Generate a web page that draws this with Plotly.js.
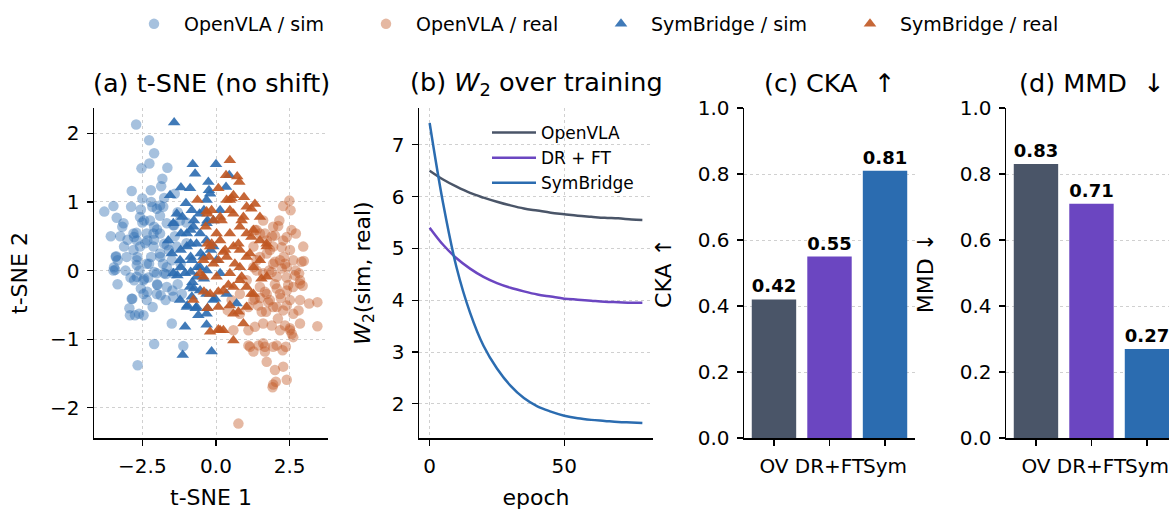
<!DOCTYPE html>
<html><head><meta charset="utf-8">
<script src="https://cdn.plot.ly/plotly-3.0.1.min.js"></script>
<style>html,body{margin:0;padding:0;background:#fff}#c{width:1169px;height:511px}</style>
</head><body><div id="c"></div>
<script>
// ---- data ----
const ovSimX = [-2.71,-2.27,-2.10,-2.53,-2.26,-1.65,-1.82,-1.86,-2.21,-3.79,-3.48,-3.37,-2.88,-3.14,-3.18,-3.25,-3.12,-3.39,-3.34,-3.42,-3.48,-3.07,-3.34,-2.86,-2.94,-2.92,-2.46,-2.75,-2.15,-1.50,-2.10,-2.66,-1.11,-2.58,-2.24,-2.01,-1.79,-1.67,-1.45,-1.22,-2.58,-2.69,-2.35,-2.12,-1.90,-1.67,-1.45,-2.01,-2.46,-2.69,-2.80,-2.35,-2.12,-1.90,-2.46,-2.01,-1.67,-1.45,-2.35,-1.16,-2.69,-3.03,-1.33,-1.67,-2.0,-2.2,-1.8,-2.4,-2.6,-2.0,-1.6,-1.4,-1.9,-2.5,-2.8,-2.9,-1.2,-1.0,-1.3,-2.1,-2.3,-1.7,-1.5,-2.7,-3.0,-2.2,-2.5,-1.9,-1.3,-1.0,
  -2.86,-2.55,-2.16,-1.76,-1.40,-3.57,-3.40,-2.67,-1.76,-1.42,-2.10,-2.44,-2.78,-2.33,-1.89,-2.27,-2.69,-3.46,-2.78,-2.44,-2.10,-1.76,-1.48,-2.84,-2.61,-1.88,-1.71,-2.33,-2.55,-1.99];
const ovSimY = [2.13,1.90,1.71,1.49,1.56,1.50,1.34,1.23,1.17,0.86,0.94,0.77,0.93,0.69,0.64,0.50,0.35,0.21,0.15,0.01,0.0,0.0,-0.20,-0.41,-0.55,-0.65,-0.65,-0.65,-0.53,-0.77,-1.07,-1.38,-1.10,0.78,0.73,0.90,0.93,0.69,0.66,0.73,0.35,0.15,0.10,0.35,0.25,0.05,-0.04,-0.04,-0.14,-0.09,0.54,0.54,0.54,0.54,-0.34,-0.34,-0.24,-0.38,-0.43,-0.34,0.44,0.20,0.35,0.37,0.6,0.2,0.1,0.4,0.0,-0.2,0.3,0.5,0.8,0.7,0.3,-0.1,0.1,0.4,-0.2,0.45,-0.1,-0.05,0.15,0.55,0.45,1.0,1.05,0.95,0.85,0.7,
  1.16,0.89,0.93,1.06,1.12,0.50,0.20,0.20,0.39,0.66,0.64,0.73,0.49,0.44,0.20,0.10,0.08,0.05,-0.14,-0.12,-0.02,-0.04,-0.29,-0.41,-0.63,-0.36,-0.43,-0.31,-0.26,-0.21];
const ovRealX = [2.49,2.28,2.53,2.15,2.11,2.96,2.71,2.98,2.82,2.94,3.16,3.44,3.44,2.85,2.62,2.51,2.37,2.26,2.06,1.94,1.66,1.44,1.15,1.72,2.00,2.28,1.94,2.03,2.40,1.92,0.76,0.59,0.40,0.81,1.32,1.60,1.27,1.72,1.94,2.28,2.51,2.62,2.40,2.17,1.94,1.72,1.49,1.38,1.60,2.06,2.40,1.49,1.04,1.27,1.94,2.51,2.62,2.17,1.83,2.62,2.85,1.55,1.10,1.72,1.27,2.28,2.56,1.94,1.60,1.38,2.85,0.81,0.53,2.0,2.2,1.8,2.3,1.5,2.1,1.9,2.4,1.7,2.7,
  1.32,1.66,2.00,2.40,2.23,1.83,1.49,2.90,2.00,2.34,1.38,1.89,2.23,2.68,2.45,2.85,2.06,1.66,1.32,1.77,2.06,2.40,2.80,2.51,2.34,1.89,1.10,1.10,1.27,1.60,1.66,2.57,2.17,1.43];
const ovRealY = [1.02,0.94,0.88,0.73,0.65,0.35,0.54,0.14,-0.04,-0.22,-0.48,-0.46,-0.81,-0.77,-0.97,-0.87,-1.11,-1.16,-1.09,-1.11,-1.11,-1.09,-1.11,-1.33,-1.45,-1.40,-1.66,-1.62,-1.59,-1.70,-2.23,-0.87,-0.58,-0.63,-0.82,-0.77,-0.43,-0.34,-0.53,-0.58,-0.43,-0.24,0.05,0.15,0.35,0.44,0.54,0.15,-0.04,-0.09,-0.29,-0.24,-0.14,0.05,0.10,0.30,0.15,-0.34,-0.43,-0.63,-0.43,-0.60,-0.53,0.25,0.35,0.44,0.59,0.64,0.73,0.59,-0.14,-0.34,-0.43,-0.2,-0.4,0.0,0.2,-0.4,-0.7,0.5,-0.1,-0.6,0.0,
  0.59,0.54,0.51,0.49,0.34,0.30,0.20,0.13,0.13,0.10,0.0,-0.02,0.03,-0.07,-0.21,-0.19,-0.26,-0.31,-0.41,-0.46,-0.53,-0.51,-0.58,-0.84,-0.80,-0.80,-0.87,-1.09,-1.18,-1.06,-1.18,-0.92,-0.87,-0.51];
const sbSimX = [-1.42,-0.79,-0.71,0.0,0.45,-1.56,-1.19,-0.88,-0.26,-0.20,0.34,-1.02,-0.82,-0.56,-0.32,-1.45,-1.19,-1.62,-0.99,-0.66,-1.50,-1.22,-0.82,-0.43,-1.05,-0.66,-0.32,-0.88,-0.54,-1.22,-0.99,-0.66,-0.32,-0.60,-1.05,-1.13,-0.15,0.70,-0.09,-1.33,-0.54,-0.32,-0.77,-0.09,0.02,0.14,-0.54,-0.99,-1.45,-0.82,-0.32,0.36,-0.09,-0.32,0.14,
  -0.24,-0.41,-1.14,-0.75,-0.29,-0.86,-1.20,-0.86,-0.86,-0.52,-0.18,-1.20,-0.63,-1.31,-0.80,-0.75,-0.97,-0.69,-0.29,-0.32,-0.86,-0.41,-0.03];
const sbSimY = [2.16,1.55,1.41,1.55,1.39,1.10,1.21,1.20,1.29,1.12,1.22,0.98,0.88,0.83,0.69,0.69,0.54,0.44,0.35,0.39,0.25,0.15,0.15,0.20,-0.04,-0.09,0.0,-0.24,-0.29,-0.43,-0.53,-0.53,-0.63,-0.65,-0.82,-1.23,-1.18,-0.48,-0.43,0.83,0.54,0.44,0.64,0.35,0.15,-0.04,0.05,0.54,-0.04,-0.38,-0.34,-0.34,0.73,1.03,0.88,
  1.17,0.88,0.78,0.73,0.73,0.59,0.30,0.39,0.20,0.25,0.30,0.05,0.05,-0.07,-0.17,-0.26,-0.51,-0.55,-0.55,-0.79,-0.02,-0.12,-0.41];
const sbRealX = [0.47,0.34,0.72,0.79,0.08,-0.63,0.95,1.32,1.04,0.59,0.36,-0.32,-0.09,0.14,0.59,0.93,1.27,1.72,1.49,0.81,0.47,0.14,-0.20,-0.43,-0.09,0.36,0.81,1.15,1.27,0.81,0.47,0.02,-0.43,0.59,1.04,1.27,0.25,-0.20,-0.77,0.08,0.47,0.93,-0.20,0.08,0.25,0.59,0.59,1.04,-0.54,0.02,0.59,1.04,1.49,1.72,1.49,0.47,0.25,0.81,
  0.14,0.76,1.20,1.54,0.87,0.42,0.08,1.20,0.53,0.47,0.87,-0.15,0.19,1.72,1.20,0.76,0.31,-0.15,1.04,0.64,0.08,-0.29,-0.35,-0.29,-0.24,-0.41,-0.29];
const sbRealY = [1.61,1.39,1.37,1.29,1.20,1.03,1.07,0.97,0.93,1.10,1.03,0.86,0.73,0.78,0.83,0.78,0.59,0.35,0.44,0.64,0.54,0.44,0.35,0.15,0.10,0.20,0.30,0.25,0.05,0.05,-0.04,-0.09,-0.09,-0.24,-0.24,-0.34,-0.29,-0.34,-0.43,-0.53,-0.51,-0.77,-0.89,-0.86,-0.87,-1.02,-0.63,-0.53,-0.04,0.54,0.35,0.54,0.15,-0.09,0.78,1.03,0.27,-0.14,
  -0.87,-0.60,-0.34,-0.12,-0.09,-0.21,-0.31,0.90,1.05,0.88,0.73,0.88,0.73,0.39,0.49,0.39,0.30,0.39,0.20,0.10,0.15,0.83,0.64,0.39,0.20,-0.31,-0.55];

const epochs = [0,5,10,15,20,25,30,35,40,45,50,55,60,65,70,75,79];
const w2OpenVLA = [6.50,6.33,6.19,6.07,5.98,5.90,5.83,5.77,5.73,5.69,5.66,5.63,5.61,5.59,5.58,5.56,5.55];
const w2DRFT = [5.40,5.07,4.81,4.61,4.45,4.33,4.24,4.17,4.11,4.07,4.03,4.01,3.99,3.97,3.96,3.95,3.95];
const w2SymBridge = [7.42,5.87,4.63,3.76,3.12,2.68,2.35,2.11,1.95,1.85,1.77,1.72,1.69,1.67,1.65,1.64,1.63];

const barCats = ['OV','DR+FT','Sym'];
const ckaVals = [0.42,0.55,0.81];
const mmdVals = [0.83,0.71,0.27];

// ---- style ----
const C_GRAY = '#4a5568', C_PURPLE = '#6b46c1', C_BLUE = '#2b6cb0', C_ORANGE = '#c05621';
const FONT = 'DejaVu Sans';
const W = 1169, H = 511;
const px = v => v / W, py = v => 1 - v / H;

function ax(extra) {
  return Object.assign({
    showline: true, linecolor: '#000', linewidth: 1.5, mirror: false,
    ticks: 'outside', ticklen: 6, tickwidth: 1.3, tickcolor: '#000', ticklabelstandoff: 3,
    tickfont: {family: FONT, size: 20, color: '#000'},
    showgrid: true, gridcolor: '#d0d0d0', griddash: 'dot', gridwidth: 1,
    zeroline: false, automargin: false, fixedrange: true
  }, extra);
}

const traces = [
  {type:'scatter', mode:'markers', x: ovSimX, y: ovSimY, name:'OpenVLA / sim', xaxis:'x', yaxis:'y', legend:'legend',
   marker:{symbol:'circle', size:10.5, color:'rgba(43,108,176,0.42)', line:{width:0}}},
  {type:'scatter', mode:'markers', x: ovRealX, y: ovRealY, name:'OpenVLA / real', xaxis:'x', yaxis:'y', legend:'legend2',
   marker:{symbol:'circle', size:10.5, color:'rgba(192,86,33,0.42)', line:{width:0}}},
  {type:'scatter', mode:'markers', x: sbSimX, y: sbSimY, name:'SymBridge / sim', xaxis:'x', yaxis:'y', legend:'legend3',
   marker:{symbol:'triangle-up', size:11, color:'rgba(43,108,176,0.9)', line:{width:0}}},
  {type:'scatter', mode:'markers', x: sbRealX, y: sbRealY, name:'SymBridge / real', xaxis:'x', yaxis:'y', legend:'legend4',
   marker:{symbol:'triangle-up', size:11, color:'rgba(192,86,33,0.9)', line:{width:0}}},
  {type:'scatter', mode:'lines', x: epochs, y: w2OpenVLA, name:'OpenVLA', xaxis:'x2', yaxis:'y2', legend:'legend5', legendgroup:'g1',
   line:{color:C_GRAY, width:2.5, shape:'spline'}},
  {type:'scatter', mode:'lines', x: epochs, y: w2DRFT, name:'DR + FT', xaxis:'x2', yaxis:'y2', legend:'legend5', legendgroup:'g2',
   line:{color:C_PURPLE, width:2.5, shape:'spline'}},
  {type:'scatter', mode:'lines', x: epochs, y: w2SymBridge, name:'SymBridge', xaxis:'x2', yaxis:'y2', legend:'legend5', legendgroup:'g3',
   line:{color:C_BLUE, width:2.5, shape:'spline'}},
  {type:'bar', x: barCats, y: ckaVals, xaxis:'x3', yaxis:'y3', showlegend:false, width:0.8,
   marker:{color:[C_GRAY,C_PURPLE,C_BLUE], line:{width:0}},
   texttemplate:'%{y:.2f}', textposition:'outside', cliponaxis:false,
   textfont:{family:FONT, size:18, color:'#000', weight:'bold'}},
  {type:'bar', x: barCats, y: mmdVals, xaxis:'x4', yaxis:'y4', showlegend:false, width:0.8,
   marker:{color:[C_GRAY,C_PURPLE,C_BLUE], line:{width:0}},
   texttemplate:'%{y:.2f}', textposition:'outside', cliponaxis:false,
   textfont:{family:FONT, size:18, color:'#000', weight:'bold'}}
];

const yDom = [py(438), py(108)];
const labFont = {family: FONT, size: 22, color: '#000'};
const ttlFont = {family: FONT, size: 25.5, color: '#000'};
const topLeg = (markerX) => ({orientation:'h', x:px(markerX - 31), xanchor:'left', y:py(24), yanchor:'middle',
    itemwidth:50, font:{family:FONT, size:19, color:'#000'}, bgcolor:'rgba(0,0,0,0)'});

const layout = {
  width: W, height: H, margin:{l:0,r:0,t:0,b:0},
  paper_bgcolor:'#fff', plot_bgcolor:'#fff',
  font:{family:FONT, color:'#000'},
  xaxis: ax({domain:[px(94), px(328)], range:[-4.14,3.80], tickvals:[-2.5,0,2.5], tickformat:'.1f', anchor:'y',
    title:{text:'t-SNE 1', font:labFont, standoff:13}}),
  yaxis: ax({domain:yDom, range:[-2.44,2.37], tickvals:[-2,-1,0,1,2], anchor:'x',
    title:{text:'t-SNE 2', font:labFont, standoff:16}}),
  xaxis2: ax({domain:[px(419), px(653)], range:[-3.95,82.95], tickvals:[0,50], anchor:'y2',
    title:{text:'epoch', font:labFont, standoff:13}}),
  yaxis2: ax({domain:yDom, range:[1.34,7.71], tickvals:[2,3,4,5,6,7], anchor:'x2',
    title:{text:'<i>W</i><sub>2</sub>(sim, real)', font:labFont, standoff:15}}),
  xaxis3: ax({domain:[px(744), px(915)], type:'category', range:[-0.54,2.54], anchor:'y3', showgrid:false, tickangle:0}),
  yaxis3: ax({domain:yDom, range:[0,1], tickvals:[0,0.2,0.4,0.6,0.8,1.0], tickformat:'.1f', anchor:'x3',
    title:{text:'CKA \u2191', font:labFont, standoff:20}}),
  xaxis4: ax({domain:[px(1006), 1], type:'category', range:[-0.54,2.397], anchor:'y4', showgrid:false, tickangle:0}),
  yaxis4: ax({domain:yDom, range:[0,1], tickvals:[0,0.2,0.4,0.6,0.8,1.0], tickformat:'.1f', anchor:'x4',
    title:{text:'MMD \u2193', font:labFont, standoff:20}}),
  legend: topLeg(155),
  legend2: topLeg(387),
  legend3: topLeg(622),
  legend4: topLeg(871),
  legend5: {x:px(487), xanchor:'left', y:py(115), yanchor:'top', tracegroupgap:0, itemwidth:44,
    font:{family:FONT, size:17, color:'#000'}, bgcolor:'rgba(0,0,0,0)'},
  annotations: [
    {text:'(a) t-SNE (no shift)', x:px(211), y:py(83), xanchor:'center', yanchor:'middle', xref:'paper', yref:'paper', showarrow:false, font:ttlFont},
    {text:'(b) <i>W</i><sub>2</sub> over training', x:px(536), y:py(83), xanchor:'center', yanchor:'middle', xref:'paper', yref:'paper', showarrow:false, font:ttlFont},
    {text:'(c) CKA\u00a0 \u2191', x:px(829), y:py(83), xanchor:'center', yanchor:'middle', xref:'paper', yref:'paper', showarrow:false, font:ttlFont},
    {text:'(d) MMD\u00a0 \u2193', x:px(1091), y:py(83), xanchor:'center', yanchor:'middle', xref:'paper', yref:'paper', showarrow:false, font:ttlFont}
  ]
};

Plotly.newPlot('c', traces, layout, {displayModeBar:false, staticPlot:true});
</script></body></html>
